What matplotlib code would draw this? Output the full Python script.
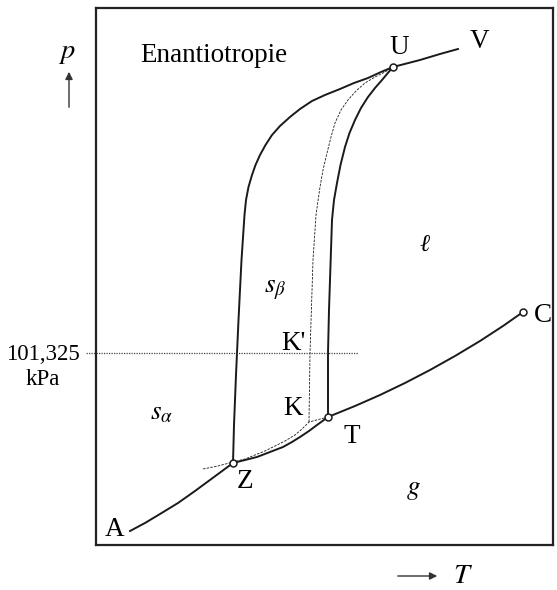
import matplotlib
matplotlib.use("Agg")
import matplotlib.pyplot as plt

plt.rcParams["font.family"] = ["Liberation Serif", "DejaVu Serif"]
plt.rcParams["mathtext.fontset"] = "stix"

# phase boundaries in arbitrary T / p units
sub_alpha_T = [34, 49, 64, 82, 99, 118, 137]
sub_alpha_p = [14, 22, 31, 42, 54, 68, 82]

sub_beta_T = [137, 149, 161, 174, 187, 196, 204, 213, 221, 232]
sub_beta_p = [82, 85, 88, 93, 98, 103, 108, 114, 120, 128]

meta_vap_T = [107, 122, 137, 149, 159, 169, 179, 189, 199, 206, 213, 232]
meta_vap_p = [76, 79, 83, 86, 90, 94, 99, 104, 110, 116, 123, 128]

vap_T = [232, 259, 284, 309, 334, 359, 384, 407, 427]
vap_p = [128, 139, 150, 162, 175, 189, 204, 219, 233]

ab_T = [137, 138, 139, 140, 141, 142.5, 144, 145.5, 147.5, 148.5, 150, 152.5,
        156, 159.5, 164, 169.5, 176, 184, 194, 204, 216, 229, 244, 258, 272,
        285, 297]
ab_p = [82, 120, 145, 170, 192, 225, 255, 285, 315, 330, 345, 358,
        370, 380, 390, 400, 410, 419, 428, 436, 444, 450, 456, 462, 467,
        473, 478]

bl_T = [232, 232, 233, 234, 235, 236, 238, 241, 244.5, 249, 253.5, 259, 265,
        272, 279, 286, 291, 297]
bl_p = [128, 192, 235, 265, 295, 325, 345, 362, 380, 398, 412, 425, 437,
        448, 457, 465, 471, 478]

meta_melt_T = [213, 214, 217, 220, 224, 227, 231, 235, 239, 245, 252, 260,
               269, 279, 289, 297]
meta_melt_p = [123, 192, 285, 330, 358, 375, 392, 408, 422, 435, 445, 454,
               462, 468, 473, 478]

al_T = [297, 324, 344, 362]
al_p = [478, 485, 491, 496]

# triple points Z, T, U and critical point C
pts_T = [137, 232, 297, 427]
pts_p = [82, 128, 478, 233]

p_norm = 192  # 101,325 kPa
T_min, T_max = 0, 457
p_min, p_max = 0, 537

fig = plt.figure(figsize=(5.57, 5.90), dpi=100)
ax = fig.add_axes([96 / 557, 45 / 590, 457 / 557, 537 / 590])
ax.set_xlim(T_min, T_max)
ax.set_ylim(p_min, p_max)
ax.set_xticks([])
ax.set_yticks([])
for s in ax.spines.values():
    s.set_linewidth(1.6)
    s.set_color("#222222")

lc = "#1a1a1a"
lw = 1.4
for xs, ys in [(sub_alpha_T, sub_alpha_p), (sub_beta_T, sub_beta_p),
               (vap_T, vap_p), (ab_T, ab_p), (bl_T, bl_p), (al_T, al_p)]:
    ax.plot(xs, ys, color=lc, lw=lw, solid_joinstyle="round")
for xs, ys in [(meta_vap_T, meta_vap_p), (meta_melt_T, meta_melt_p)]:
    ax.plot(xs, ys, color=lc, lw=0.6, ls=(0, (3, 1.5)))

ax.plot([-10, 262], [p_norm, p_norm], color="#444444", lw=0.9,
        ls=(0, (1, 1)), clip_on=False)

ax.plot(pts_T, pts_p, ls="none", marker="o", ms=5, mfc="white",
        mec=lc, mew=1.1, zorder=5)

fs = 19.5
ax.text(118, 483, "Enantiotropie", fontsize=fs, ha="center", va="baseline")
ax.text(303, 491, "U", fontsize=fs, ha="center", va="baseline")
ax.text(384, 497, "V", fontsize=fs, ha="center", va="baseline")
ax.text(329, 299, "ℓ", fontsize=fs - 2, ha="center", va="center",
        style="italic")
ax.text(179, 255, r"$s_{\beta}$", fontsize=fs, ha="center", va="center")
ax.text(197, 195, "K'", fontsize=fs, ha="center", va="baseline")
ax.text(197, 130, "K", fontsize=fs, ha="center", va="baseline")
ax.text(256, 102, "T", fontsize=fs, ha="center", va="baseline")
ax.text(149, 57, "Z", fontsize=fs, ha="center", va="baseline")
ax.text(65, 132, r"$s_{\alpha}$", fontsize=fs, ha="center", va="center")
ax.text(317, 55, r"$g$", fontsize=fs, ha="center", va="center")
ax.text(19, 9, "A", fontsize=fs, ha="center", va="baseline")
ax.text(447, 223, "C", fontsize=fs, ha="center", va="baseline")

ax.text(-53, 185, "101,325", fontsize=16.5, ha="center", va="baseline",
        clip_on=False)
ax.text(-53, 160, "kPa", fontsize=16.5, ha="center", va="baseline",
        clip_on=False)

# axis labels with arrows
ax.text(-29, 487, r"$p$", fontsize=fs + 1, ha="center", va="baseline",
        clip_on=False)
ax.annotate("", xy=(-27, 476), xytext=(-27, 435), xycoords="data",
            arrowprops=dict(arrowstyle="-|>", color="#333333", lw=1,
                            mutation_scale=11), annotation_clip=False)
ax.annotate("", xy=(344, -31), xytext=(299, -31), xycoords="data",
            arrowprops=dict(arrowstyle="-|>", color="#333333", lw=1,
                            mutation_scale=11), annotation_clip=False)
ax.text(367, -38, r"$T$", fontsize=fs + 1, ha="center", va="baseline",
        clip_on=False)

fig.savefig("out.png", dpi=100)
